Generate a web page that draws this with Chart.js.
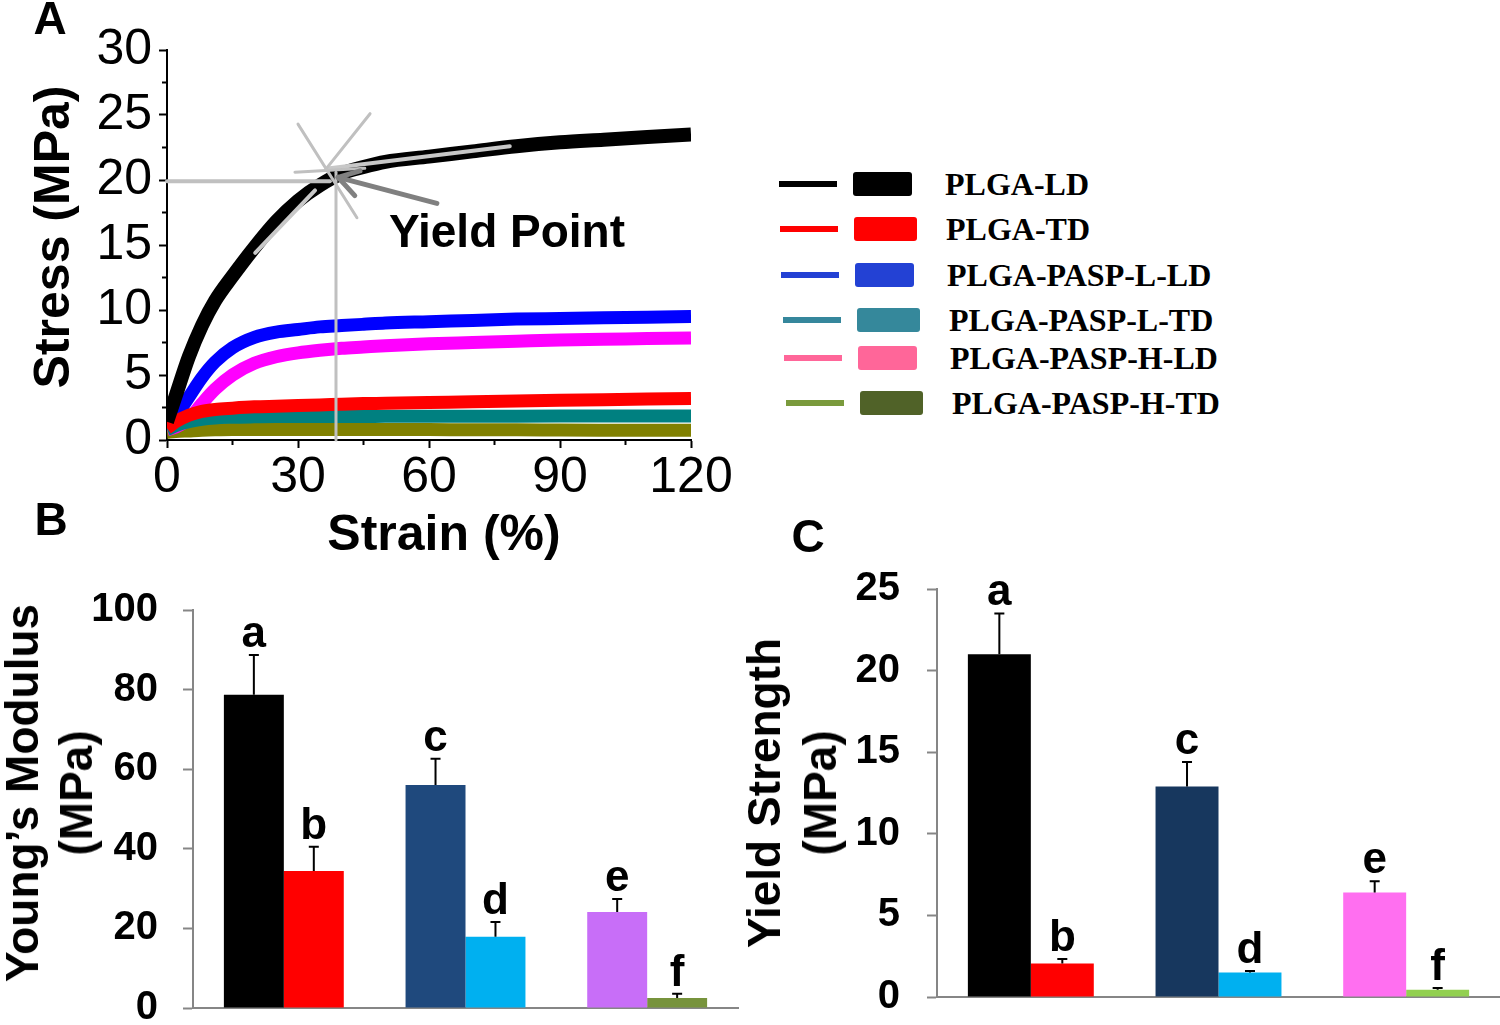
<!DOCTYPE html>
<html><head><meta charset="utf-8">
<script src="https://cdn.jsdelivr.net/npm/chart.js@4.4.1/dist/chart.umd.min.js"></script>
<style>
body{margin:0;background:#fff;width:1500px;height:1025px;position:relative;overflow:hidden;font-family:"Liberation Sans",Arial,sans-serif;}
canvas{position:absolute;}
.t{position:absolute;white-space:nowrap;font-weight:bold;line-height:1;transform:translate(-50%,-50%);color:#000;}
.r{transform:translate(-50%,-50%) rotate(-90deg);}
.lg{position:absolute;}
.lt{position:absolute;font-family:"Liberation Serif","Times New Roman",serif;font-weight:bold;font-size:32px;line-height:1;transform:translateY(-50%);white-space:nowrap;}
</style></head><body>
<canvas id="cA" width="745" height="560" style="left:0;top:0"></canvas>
<canvas id="cB" width="750" height="465" style="left:0;top:560px"></canvas>
<canvas id="cC" width="760" height="485" style="left:740px;top:540px"></canvas>

<div class="t" style="left:50px;top:18px;font-size:46px">A</div>
<div class="t" style="left:51px;top:519px;font-size:46px">B</div>
<div class="t" style="left:808px;top:536px;font-size:46px">C</div>

<div class="t r" style="left:52px;top:237px;font-size:50px">Stress (MPa)</div>
<div class="t" style="left:444px;top:533px;font-size:50px">Strain (%)</div>
<div class="t" style="left:507px;top:231px;font-size:46px">Yield Point</div>

<div class="t r" style="left:22px;top:793px;font-size:46px">Young’s Modulus</div>
<div class="t r" style="left:76px;top:793px;font-size:46px">(MPa)</div>
<div class="t r" style="left:764px;top:793px;font-size:46px">Yield Strength</div>
<div class="t r" style="left:820px;top:793px;font-size:46px">(MPa)</div>

<div id="legend"></div>

<script>
// ---------- Panel A data ----------
const strain = [0, 2, 5, 8, 11, 15, 20, 25, 30, 35, 40, 45, 50, 60, 70, 80, 90, 100, 110, 120];
const stressPLGA_LD      = [1.4, 3.4, 6.4, 8.8, 10.7, 12.6, 14.8, 16.8, 18.4, 19.6, 20.5, 21.0, 21.4, 21.8, 22.2, 22.6, 22.9, 23.1, 23.3, 23.5];
const stressPLGA_TD      = [0.9, 1.4, 1.9, 2.2, 2.35, 2.45, 2.55, 2.6, 2.65, 2.7, 2.75, 2.8, 2.82, 2.88, 2.95, 3.0, 3.05, 3.1, 3.15, 3.2];
const stressPASP_L_LD    = [1.0, 1.8, 3.3, 4.8, 6.0, 7.1, 7.9, 8.3, 8.5, 8.7, 8.8, 8.9, 9.0, 9.1, 9.2, 9.3, 9.35, 9.4, 9.45, 9.5];
const stressPASP_L_TD    = [0.8, 1.1, 1.4, 1.6, 1.7, 1.75, 1.78, 1.8, 1.8, 1.8, 1.8, 1.8, 1.82, 1.82, 1.82, 1.83, 1.84, 1.85, 1.85, 1.85];
const stressPASP_H_LD    = [0.8, 1.0, 1.6, 2.8, 3.9, 5.0, 5.9, 6.4, 6.7, 6.9, 7.05, 7.15, 7.25, 7.4, 7.5, 7.6, 7.7, 7.75, 7.8, 7.85];
const stressPASP_H_TD    = [0.6, 0.65, 0.7, 0.75, 0.78, 0.8, 0.8, 0.8, 0.8, 0.8, 0.8, 0.8, 0.8, 0.8, 0.78, 0.78, 0.76, 0.75, 0.75, 0.75];
const seriesNames  = ['PLGA-LD', 'PLGA-TD', 'PLGA-PASP-L-LD', 'PLGA-PASP-L-TD', 'PLGA-PASP-H-LD', 'PLGA-PASP-H-TD'];
const seriesStress = [stressPLGA_LD, stressPLGA_TD, stressPASP_L_LD, stressPASP_L_TD, stressPASP_H_LD, stressPASP_H_TD];
const curveColors  = ['#000000', '#ff0000', '#0000ff', '#008080', '#ff00ff', '#808000'];
const legendLineColors = ['#000000', '#ff0000', '#2341d4', '#35879c', '#ff6699', '#7a9a3c'];
const legendBoxColors  = ['#000000', '#ff0000', '#2341d4', '#35889b', '#ff6699', '#506228'];
const xTicksA = [0, 30, 60, 90, 120];
const yTicksA = [0, 5, 10, 15, 20, 25, 30];

// yield-point annotation (data units)
const yieldHLine = [[0, 19.9], [37.3, 19.9]];
const yieldVLine = [[38.7, 0], [38.7, 20.6]];
const starArms = [[[30.0, 24.3], [43.5, 17.1]], [[46.5, 25.1], [36.3, 20.8]], [[29.3, 20.6], [45.3, 20.9]]];
const tangentLines = [[[20.2, 14.4], [33.9, 19.2]], [[37.3, 20.9], [78.5, 22.6]]];
const arrowShaft = [[61.8, 18.2], [39.2, 20.2]];
const arrowBarbs = [[44.2, 20.7], [43.0, 18.8]];

// ---------- Panel B / C data ----------
const groups = ['PLGA', 'PLGA-PASP-L', 'PLGA-PASP-H'];
const modulusLD = [78.7, 56.0, 24.1];
const modulusTD = [34.4, 17.9, 2.5];
const modulusErrLD = [10.0, 6.6, 3.3];
const modulusErrTD = [6.1, 3.7, 1.1];
const modulusColorsLD = ['#000000', '#1f497d', '#c86ef8'];
const modulusColorsTD = ['#ff0000', '#00b0f0', '#77933c'];
const yieldLD = [21.0, 12.9, 6.4];
const yieldTD = [2.05, 1.5, 0.45];
const yieldErrLD = [2.5, 1.5, 0.7];
const yieldErrTD = [0.28, 0.1, 0.1];
const yieldColorsLD = ['#000000', '#17375e', '#ff6ff0'];
const yieldColorsTD = ['#ff0000', '#00b0f0', '#92d050'];
const lettersLD = ['a', 'c', 'e'];
const lettersTD = ['b', 'd', 'f'];

// ---------- legend (HTML) ----------
const legendRows = [184, 229, 275, 320, 358, 403];
const lg = document.getElementById('legend');
seriesNames.forEach((n, i) => {
  const y = legendRows[i], dx = [0, 1, 2, 4, 5, 7][i];
  const l = document.createElement('div'); l.className = 'lg';
  l.style.cssText = `left:${779 + dx}px;top:${y - 3}px;width:58px;height:6px;background:${legendLineColors[i]};`;
  const b = document.createElement('div'); b.className = 'lg';
  b.style.cssText = `left:${853 + dx}px;top:${y - 12}px;width:${59 + (i % 2) * 4}px;height:24px;border-radius:3px;background:${legendBoxColors[i]};`;
  const t = document.createElement('div'); t.className = 'lt';
  t.style.cssText = `left:${945 + dx}px;top:${y}px;`;
  t.textContent = n;
  lg.appendChild(l); lg.appendChild(b); lg.appendChild(t);
});

Chart.defaults.font.family = '"Liberation Sans", Arial, sans-serif';
Chart.defaults.color = '#000';

// ---------- Panel A ----------
const annoPlugin = {
  id: 'yieldAnno',
  afterDatasetsDraw(chart) {
    const {ctx, scales: {x, y}} = chart;
    const P = p => [x.getPixelForValue(p[0]), y.getPixelForValue(p[1])];
    const seg = (a, b, col, w) => {
      const A = P(a), B = P(b);
      ctx.beginPath(); ctx.moveTo(A[0], A[1]); ctx.lineTo(B[0], B[1]);
      ctx.strokeStyle = col; ctx.lineWidth = w; ctx.stroke();
    };
    ctx.save(); ctx.lineCap = 'round';
    tangentLines.forEach(s => seg(s[0], s[1], '#c8c8c8', 4));
    seg(yieldHLine[0], yieldHLine[1], '#c0c0c0', 4);
    seg(yieldVLine[0], yieldVLine[1], '#c0c0c0', 3);
    starArms.forEach(s => seg(s[0], s[1], '#c0c0c0', 3));
    seg(arrowShaft[0], arrowShaft[1], '#808080', 5);
    arrowBarbs.forEach(b => seg(arrowShaft[1], b, '#808080', 5));
    ctx.restore();
  }
};

const noPadY = (w) => s => { s.width = w; s.paddingTop = 0; s.paddingBottom = 0; };

new Chart(document.getElementById('cA'), {
  type: 'line',
  data: {
    datasets: seriesNames.map((n, i) => ({
      label: n,
      data: strain.map((s, k) => ({x: s, y: seriesStress[i][k]})),
      borderColor: curveColors[i],
      backgroundColor: curveColors[i],
      borderWidth: i === 0 ? 14 : 13,
      pointRadius: 0,
      cubicInterpolationMode: 'monotone',
      borderJoinStyle: 'round',
      fill: false
    }))
  },
  options: {
    responsive: false, animation: false, devicePixelRatio: 1,
    layout: {padding: {left: 0, top: 50, right: 54, bottom: 0}},
    plugins: {legend: {display: false}, tooltip: {enabled: false}},
    scales: {
      x: {
        type: 'linear', min: 0, max: 120,
        afterFit: s => { s.height = 120; s.paddingLeft = 0; s.paddingRight = 0; },
        ticks: {stepSize: 15, autoSkip: false, maxRotation: 0, padding: 0,
          font: {size: 50}, color: '#000',
          callback: v => xTicksA.includes(v) ? String(v) : ''},
        grid: {drawOnChartArea: false, drawTicks: true, tickLength: 8, tickColor: '#000', tickWidth: 2,
          tickBorderDash: c => (c.tick && !xTicksA.includes(c.tick.value)) ? [4, 100] : []},
        border: {display: true, color: '#000', width: 2}
      },
      y: {
        type: 'linear', min: 0, max: 30,
        afterFit: noPadY(167),
        ticks: {stepSize: 2.5, autoSkip: false, padding: 7,
          font: {size: 50}, color: '#000',
          callback: v => yTicksA.includes(v) ? String(v) : ''},
        grid: {drawOnChartArea: false, drawTicks: true, tickLength: 8, tickColor: '#000', tickWidth: 2,
          tickBorderDash: c => (c.tick && !yTicksA.includes(c.tick.value)) ? [0, 3, 4, 100] : []},
        border: {display: true, color: '#000', width: 2}
      }
    }
  },
  plugins: [annoPlugin]
});

// ---------- Panels B & C ----------
const errPlugin = {
  id: 'errLetters',
  afterDatasetsDraw(chart, args, opts) {
    const {ctx} = chart; const ys = chart.scales.y;
    chart.data.datasets.forEach((ds, di) => {
      const meta = chart.getDatasetMeta(di);
      meta.data.forEach((bar, i) => {
        const v = ds.data[i], e = opts.errors[di][i];
        const top = ys.getPixelForValue(v + e);
        ctx.save();
        ctx.strokeStyle = '#000'; ctx.lineWidth = 2;
        ctx.beginPath(); ctx.moveTo(bar.x, bar.y); ctx.lineTo(bar.x, top);
        ctx.moveTo(bar.x - 5, top); ctx.lineTo(bar.x + 5, top); ctx.stroke();
        ctx.fillStyle = '#000'; ctx.font = 'bold 44px "Liberation Sans", Arial, sans-serif';
        ctx.textAlign = 'center'; ctx.textBaseline = 'alphabetic';
        ctx.fillText(opts.letters[di][i], bar.x, top - 8);
        ctx.restore();
      });
    });
  }
};

function barChart(id, ld, td, eld, etd, cld, ctd, max, step, yWidth, padTop, padRight, xHeight, catPct, tickPad) {
  return new Chart(document.getElementById(id), {
    type: 'bar',
    data: {
      labels: groups,
      datasets: [
        {label: 'LD', data: ld, backgroundColor: cld, borderWidth: 0},
        {label: 'TD', data: td, backgroundColor: ctd, borderWidth: 0}
      ]
    },
    options: {
      responsive: false, animation: false, devicePixelRatio: 1,
      categoryPercentage: catPct, barPercentage: 1.0,
      layout: {padding: {left: 0, top: padTop, right: padRight, bottom: 0}},
      plugins: {legend: {display: false}, tooltip: {enabled: false},
        errLetters: {errors: [eld, etd], letters: [lettersLD, lettersTD]}},
      scales: {
        x: {
          afterFit: s => { s.height = xHeight; s.paddingLeft = 0; s.paddingRight = 0; },
          ticks: {display: false},
          grid: {display: false},
          border: {display: true, color: '#868686', width: 2}
        },
        y: {
          min: 0, max: max,
          afterFit: noPadY(yWidth),
          ticks: {stepSize: step, padding: tickPad, font: {size: 40, weight: 'bold'}, color: '#000'},
          grid: {drawOnChartArea: false, drawTicks: true, tickLength: 10, tickColor: '#868686', tickWidth: 2},
          border: {display: true, color: '#868686', width: 2}
        }
      }
    },
    plugins: [errPlugin]
  });
}

barChart('cB', modulusLD, modulusTD, modulusErrLD, modulusErrTD, modulusColorsLD, modulusColorsTD,
  100, 20, 193, 50, 12, 17, 0.66, 25);
barChart('cC', yieldLD, yieldTD, yieldErrLD, yieldErrTD, yieldColorsLD, yieldColorsTD,
  25, 5, 197, 49, 0, 28, 0.671, 27);
</script>
</body></html>
